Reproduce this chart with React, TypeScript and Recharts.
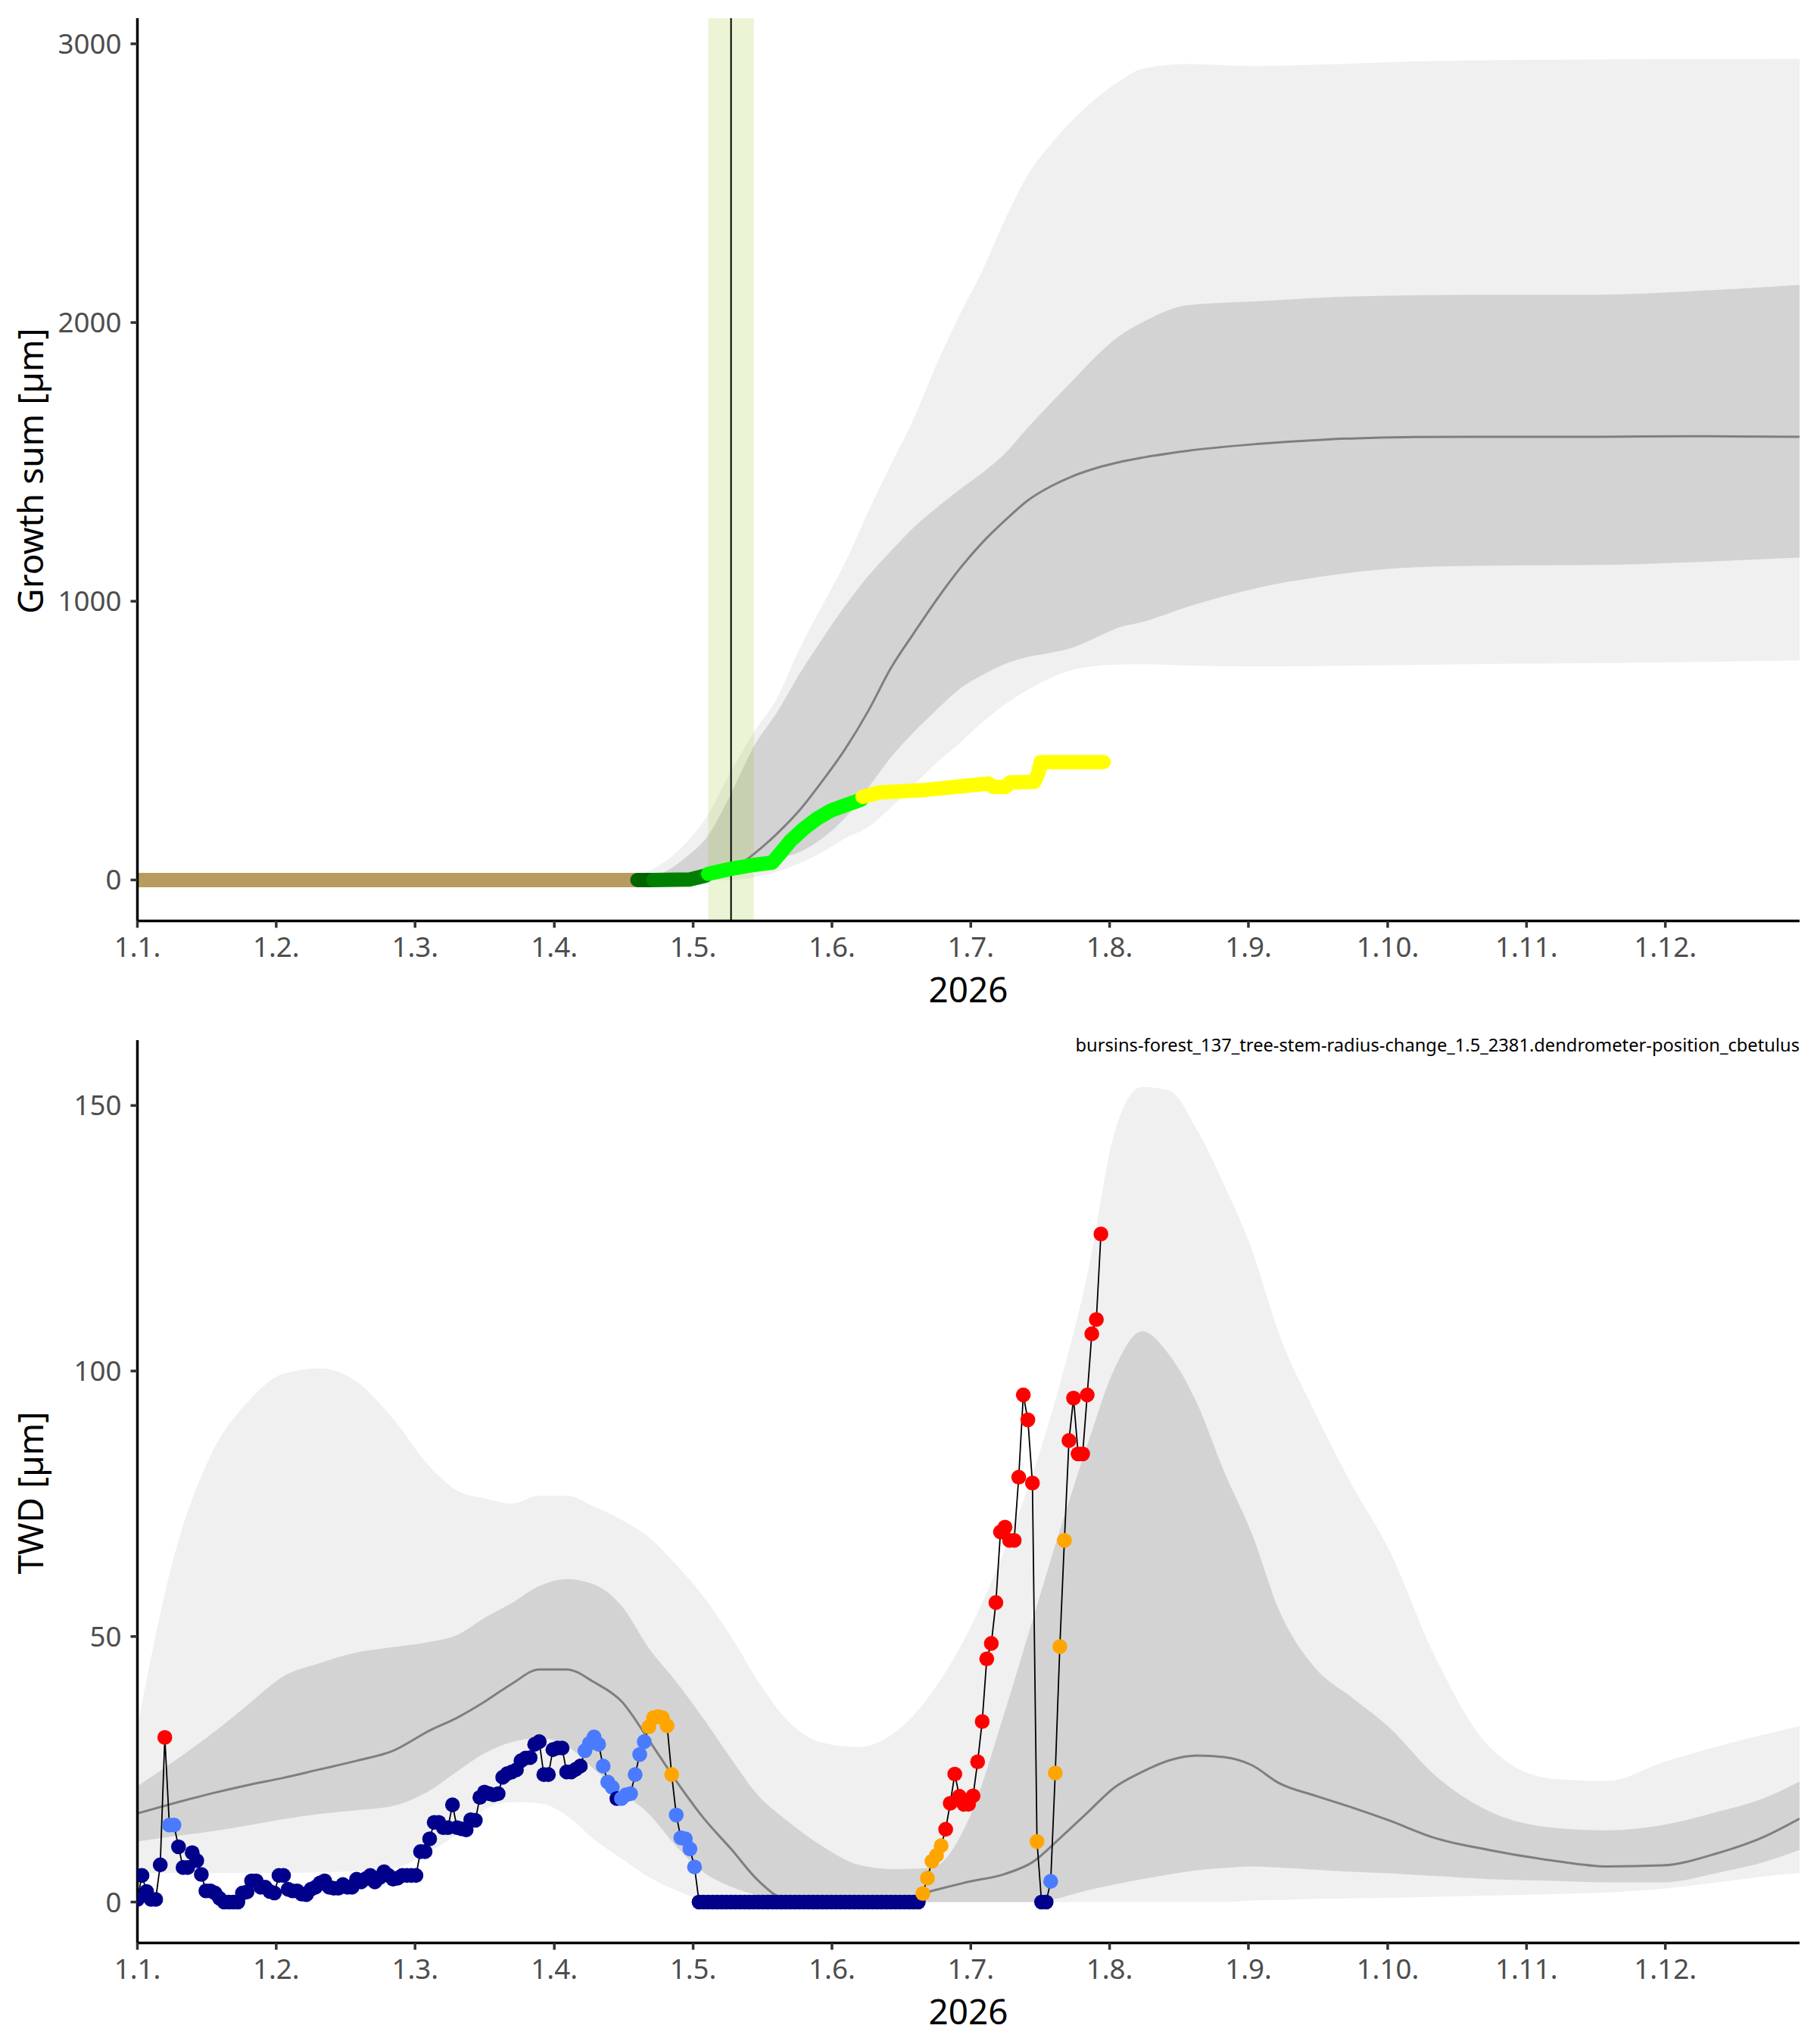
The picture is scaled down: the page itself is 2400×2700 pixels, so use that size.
import React from 'react';
import { ComposedChart, Area, Line, XAxis, YAxis, ReferenceArea, ReferenceLine } from 'recharts';

const FONT = "'Noto Sans', 'Open Sans', sans-serif";

// x axis: day of year (0 = 1 Jan), month ticks
const MONTH_TICKS = [0, 30.4, 60.8, 91.3, 121.7, 152.1, 182.5, 212.9, 243.3, 273.8, 304.2, 334.6];
const MONTH_LABELS = ['1.1.', '1.2.', '1.3.', '1.4.', '1.5.', '1.6.', '1.7.', '1.8.', '1.9.', '1.10.', '1.11.', '1.12.'];
const YEAR_LABEL = '2026';

// ---- top panel: growth sum ----
const TOP_DAYS = [0, 100, 105, 110, 115, 120, 125, 130, 135, 140, 145, 150, 155, 160, 165, 170, 175, 180, 185, 190, 195, 200, 205, 210, 215, 220, 230, 245, 260, 280, 300, 320, 340, 364];
const TOP_OUTER_HI = [0, 0, 5, 20, 60, 130, 235, 390, 530, 650, 830, 985, 1140, 1320, 1490, 1655, 1850, 2025, 2185, 2370, 2530, 2640, 2730, 2805, 2865, 2910, 2928, 2920, 2926, 2937, 2942, 2944, 2945, 2946];
const TOP_INNER_HI = [0, 0, 0, 5, 25, 80, 160, 310, 480, 600, 740, 865, 984, 1090, 1180, 1265, 1335, 1400, 1460, 1530, 1623, 1710, 1795, 1880, 1951, 2000, 2062, 2076, 2090, 2098, 2100, 2100, 2112, 2135];
const TOP_MEDIAN = [0, 0, 0, 0, 0, 0, 5, 35, 93, 165, 250, 355, 470, 605, 760, 885, 1005, 1115, 1210, 1290, 1362, 1412, 1450, 1478, 1499, 1515, 1540, 1564, 1580, 1589, 1590, 1590, 1592, 1590];
const TOP_INNER_LO = [0, 0, 0, 0, 0, 0, 0, 20, 47, 75, 100, 150, 224, 330, 440, 530, 610, 685, 735, 775, 800, 815, 835, 870, 906, 925, 980, 1047, 1090, 1122, 1128, 1130, 1140, 1157];
const TOP_OUTER_LO = [0, 0, 0, 0, 0, 0, 0, 0, 10, 30, 60, 100, 150, 190, 260, 340, 420, 490, 565, 630, 683, 725, 755, 768, 773, 774, 770, 766, 768, 772, 776, 778, 782, 788];

// growth onset window and marker
const ONSET_WINDOW = [125, 135];
const ONSET_DAY = 130;

// measured growth sum, [day, value] per phase
const GROWTH_DORMANT = [[0, 0], [109.5, 0]];
const GROWTH_PRE = [[109.5, 0], [113, 0]];
const GROWTH_START = [[113, 0], [121, 2], [123, 10], [124.5, 16]];
const GROWTH_MAIN = [[125, 22], [130, 40], [135, 54], [139, 62], [141, 100], [143, 140], [146, 185], [149, 222], [152, 250], [155, 268], [158.5, 288]];
const GROWTH_LATE = [[158.8, 298], [162.6, 314], [172, 322], [179.7, 335], [186.4, 346], [187.3, 334], [190.2, 334], [191.1, 350], [196.4, 352], [197.3, 384], [197.8, 423], [211.6, 423]];

// ---- bottom panel: TWD ----
const BOT_DAYS = [0, 8, 16, 24, 32, 40, 48, 56, 64, 70, 76, 82, 88, 94, 100, 106, 112, 118, 124, 130, 136, 142, 150, 158, 166, 174, 182, 190, 196, 202, 208, 214, 220, 226, 232, 238, 244, 250, 258, 266, 274, 284, 296, 310, 322, 334, 346, 356, 364];
const BOT_OUTER_HI = [33, 65, 84, 94, 99.5, 100.5, 98, 91, 82, 77.5, 76, 75, 76.5, 76.5, 74.5, 72, 68.7, 63.5, 57.5, 50, 41.5, 34.5, 30, 29.2, 32, 39.5, 51, 66.5, 80.5, 97.5, 118, 145, 153.5, 152.8, 145.5, 135, 123, 107, 92, 78.5, 66.5, 46.5, 29.3, 23.2, 22.8, 26.3, 29.3, 31.5, 33.1];
const BOT_INNER_HI = [21.8, 26.5, 31.5, 37, 42.5, 45, 47, 48, 49, 50.3, 53.5, 56.3, 59.5, 60.8, 59.8, 55.8, 47.8, 41.5, 34.5, 27, 20, 15.5, 10.5, 7, 6.2, 6.5, 15.5, 36, 53, 70, 86, 100.5, 107.5, 103, 94, 81, 69.5, 55, 44, 38.5, 33, 24, 17.1, 14, 13.5, 14.5, 17, 19.5, 22.7];
const BOT_MEDIAN = [16.7, 18.6, 20.4, 22, 23.4, 25, 26.6, 28.5, 32.3, 34.7, 37.7, 41.1, 43.8, 43.8, 41.4, 37.8, 30.5, 22.8, 15.8, 10, 4, 0.5, 0, 0, 0.2, 2.1, 3.8, 5.3, 7.5, 12, 16.8, 21.6, 24.5, 26.7, 27.6, 27.3, 25.8, 22.4, 20, 17.8, 15.4, 12.1, 9.8, 7.8, 6.7, 6.9, 9.2, 12.2, 15.7];
const BOT_INNER_LO = [11.4, 12.4, 13.3, 14.4, 15.6, 16.6, 17.3, 18.1, 21, 24.6, 28, 30.1, 30.9, 29.4, 25, 20.7, 16.6, 10.5, 5.6, 2.9, 1.2, 0, 0, 0, 0, 0, 0, 0, 0, 0.8, 2.2, 3.3, 4.3, 5.2, 6, 6.4, 6.7, 6.5, 6.1, 5.7, 5.4, 4.9, 4.3, 4, 3.7, 3.7, 5.5, 7.5, 9.8];
const BOT_OUTER_LO = [5.5, 5.5, 5.5, 5.5, 5.5, 5.6, 5.8, 6.3, 9.5, 12.8, 17.4, 18.8, 18.6, 16.3, 11.8, 8.2, 4.7, 2.2, 0.4, 0, 0, 0, 0, 0, 0, 0, 0, 0, 0, 0, 0, 0, 0, 0, 0, 0, 0.3, 0.4, 0.6, 0.7, 0.8, 1, 1.2, 1.5, 1.8, 2.5, 3.7, 4.8, 5.5];

// daily TWD, index = day of year
const TWD_VALUES = [
  0.5, 5, 2, 0.5, 0.5, 7, 31, 14.5, 14.5, 10.4,
  6.5, 6.5, 9.3, 7.8, 5.2, 2.1, 2.1, 1.7, 0.7, 0,
  0, 0, 0, 1.7, 1.9, 4, 4, 2.8, 2.8, 2,
  1.7, 5, 5, 2.4, 2.1, 2.1, 1.5, 1.4, 2.4, 2.8,
  3.6, 4, 2.8, 2.6, 2.6, 3.3, 2.8, 2.8, 4.3, 3.8,
  4.4, 5, 3.8, 4.6, 5.7, 5, 4.3, 4.5, 5, 5,
  5, 5, 9.5, 9.5, 11.9, 15, 15, 14, 14, 18.3,
  14, 13.8, 13.6, 15.5, 15.4, 19.7, 20.7, 20.4, 20.2, 20.4,
  23.5, 24.2, 24.5, 24.9, 26.6, 27.1, 27.2, 29.7, 30.2, 24,
  24, 28.7, 29, 29, 24.5, 24.5, 25, 25.6, 28.5, 29.9,
  31.1, 29.7, 25.6, 22.6, 21.6, 19.5, 19.5, 20.2, 20.4, 24,
  27.8, 30.2, 33, 34.7, 34.9, 34.7, 33.2, 24, 16.4, 12.1,
  11.9, 10, 6.6, 0, 0, 0, 0, 0, 0, 0,
  0, 0, 0, 0, 0, 0, 0, 0, 0, 0,
  0, 0, 0, 0, 0, 0, 0, 0, 0, 0,
  0, 0, 0, 0, 0, 0, 0, 0, 0, 0,
  0, 0, 0, 0, 0, 0, 0, 0, 0, 0,
  0, 0, 1.6, 4.5, 7.7, 8.8, 10.6, 13.7, 18.6, 24.1,
  19.9, 18.4, 18.4, 20, 26.4, 34, 45.8, 48.7, 56.4, 69.7,
  70.6, 68.1, 68.1, 80, 95.5, 90.8, 78.9, 11.4, 0, 0,
  3.9, 24.3, 48.1, 68.1, 86.9, 94.9, 84.4, 84.4, 95.5, 107,
  109.7, 125.8,
];
// class runs along the days: n = normal, b = elevated, o = high, r = very high
const TWD_CLASS_RUNS: [string, number][] = [
  ['n', 6], ['r', 1], ['b', 2], ['n', 89], ['b', 7], ['n', 1], ['b', 6], ['o', 6], ['b', 5],
  ['n', 49], ['o', 5], ['r', 20], ['o', 1], ['n', 2], ['b', 1], ['o', 3], ['r', 8],
];
const CLASS_COLORS: Record<string, string> = { n: '#00008B', b: '#4A7BFF', o: '#FFA500', r: '#FF0000' };

const FILENAME = 'bursins-forest_137_tree-stem-radius-change_1.5_2381.dendrometer-position_cbetulus';

const topRows = TOP_DAYS.map((day, i) => ({
  day, olo: TOP_OUTER_LO[i], ohi: TOP_OUTER_HI[i], ilo: TOP_INNER_LO[i], ihi: TOP_INNER_HI[i], med: TOP_MEDIAN[i],
}));
const botRows = BOT_DAYS.map((day, i) => ({
  day, olo: BOT_OUTER_LO[i], ohi: BOT_OUTER_HI[i], ilo: BOT_INNER_LO[i], ihi: BOT_INNER_HI[i], med: BOT_MEDIAN[i],
}));
const twdClasses = TWD_CLASS_RUNS.flatMap(([c, n]) => Array.from({ length: n }, () => c));
const twdPoints = TWD_VALUES.map((v, day) => ({ day, v, cls: twdClasses[day] }));
const toPts = (seg: number[][]) => seg.map(([day, v]) => ({ day, v }));

const growthSegments = [
  { data: toPts(GROWTH_DORMANT), color: '#B89B5E' },
  { data: toPts(GROWTH_PRE), color: '#006400' },
  { data: toPts(GROWTH_START), color: '#008000' },
  { data: toPts(GROWTH_MAIN), color: '#00FF00' },
  { data: toPts(GROWTH_LATE), color: '#FFFF00' },
];

const tickStyle = { fill: '#4D4D4D', fontSize: 36.7, fontFamily: FONT };
const axisLine = { stroke: '#000', strokeWidth: 3.5 };
const tickLine = { stroke: '#333', strokeWidth: 3.5 };

const xAxis = (
  <XAxis
    dataKey="day"
    type="number"
    domain={[0, 364]}
    allowDataOverflow
    ticks={MONTH_TICKS}
    interval={0}
    tickFormatter={(v: number) => MONTH_LABELS[MONTH_TICKS.indexOf(v)]}
    tick={tickStyle}
    tickSize={9}
    tickMargin={12}
    axisLine={axisLine}
    tickLine={tickLine}
    height={60}
  />
);

const titleStyle: React.CSSProperties = {
  position: 'absolute', fontFamily: FONT, fontSize: 45.8, color: '#000', lineHeight: 1, whiteSpace: 'nowrap',
};

export default function App() {
  const renderDot = (p: any) => (
    <circle key={`d${p.index}`} cx={p.cx} cy={p.cy} r={9.8} fill={CLASS_COLORS[p.payload.cls]} />
  );

  return (
    <div style={{ position: 'absolute', left: 0, top: 0, width: 2400, height: 2700, background: '#fff', fontFamily: FONT }}>
      <div style={{ position: 'absolute', left: 0, top: 0 }}>
        <ComposedChart width={2400} height={1300} data={topRows} margin={{ top: 24, right: 23, bottom: 23.5, left: 81.5 }}>
          {xAxis}
          <YAxis
            type="number"
            domain={[-147, 3092]}
            allowDataOverflow
            ticks={[0, 1000, 2000, 3000]}
            tick={tickStyle}
            tickSize={9}
            tickMargin={12}
            axisLine={axisLine}
            tickLine={tickLine}
            width={100}
          />
          <Area dataKey={(d: any) => [d.olo, d.ohi]} type="monotone" stroke="none" fill="#F0F0F0" fillOpacity={1} isAnimationActive={false} />
          <Area dataKey={(d: any) => [d.ilo, d.ihi]} type="monotone" stroke="none" fill="#D3D3D3" fillOpacity={1} isAnimationActive={false} />
          <Line dataKey="med" type="monotone" stroke="#7F7F7F" strokeWidth={3} dot={false} isAnimationActive={false} />
          <ReferenceArea x1={ONSET_WINDOW[0]} x2={ONSET_WINDOW[1]} fill="#9ACD32" fillOpacity={0.2} stroke="none" />
          <ReferenceLine x={ONSET_DAY} stroke="#000" strokeWidth={2} />
          {growthSegments.map((s, i) => (
            <Line
              key={i}
              data={s.data}
              dataKey="v"
              type="linear"
              stroke={s.color}
              strokeWidth={19}
              strokeLinecap="round"
              strokeLinejoin="round"
              dot={false}
              isAnimationActive={false}
            />
          ))}
        </ComposedChart>
      </div>

      <div style={{ position: 'absolute', left: 0, top: 1300 }}>
        <ComposedChart width={2400} height={1400} data={botRows} margin={{ top: 74, right: 23, bottom: 73.5, left: 81.5 }}>
          {xAxis}
          <YAxis
            type="number"
            domain={[-7.7, 162.3]}
            allowDataOverflow
            ticks={[0, 50, 100, 150]}
            tick={tickStyle}
            tickSize={9}
            tickMargin={12}
            axisLine={axisLine}
            tickLine={tickLine}
            width={100}
          />
          <Area dataKey={(d: any) => [d.olo, d.ohi]} type="monotone" stroke="none" fill="#F0F0F0" fillOpacity={1} isAnimationActive={false} />
          <Area dataKey={(d: any) => [d.ilo, d.ihi]} type="monotone" stroke="none" fill="#D3D3D3" fillOpacity={1} isAnimationActive={false} />
          <Line dataKey="med" type="monotone" stroke="#7F7F7F" strokeWidth={3} dot={false} isAnimationActive={false} />
          <Line
            data={twdPoints}
            dataKey="v"
            type="linear"
            stroke="#000"
            strokeWidth={1.8}
            dot={renderDot}
            isAnimationActive={false}
          />
        </ComposedChart>
      </div>

      <div style={{ ...titleStyle, left: 40, top: 622, transform: 'translate(-50%, -50%) rotate(-90deg)' }}>Growth sum [µm]</div>
      <div style={{ ...titleStyle, left: 1279, top: 1284, transform: 'translateX(-50%)' }}>{YEAR_LABEL}</div>
      <div style={{ ...titleStyle, left: 40, top: 1972, transform: 'translate(-50%, -50%) rotate(-90deg)' }}>TWD [µm]</div>
      <div style={{ ...titleStyle, left: 1279, top: 2634, transform: 'translateX(-50%)' }}>{YEAR_LABEL}</div>
      <div style={{ ...titleStyle, fontSize: 23.7, right: 23, top: 1369 }}>{FILENAME}</div>
    </div>
  );
}
